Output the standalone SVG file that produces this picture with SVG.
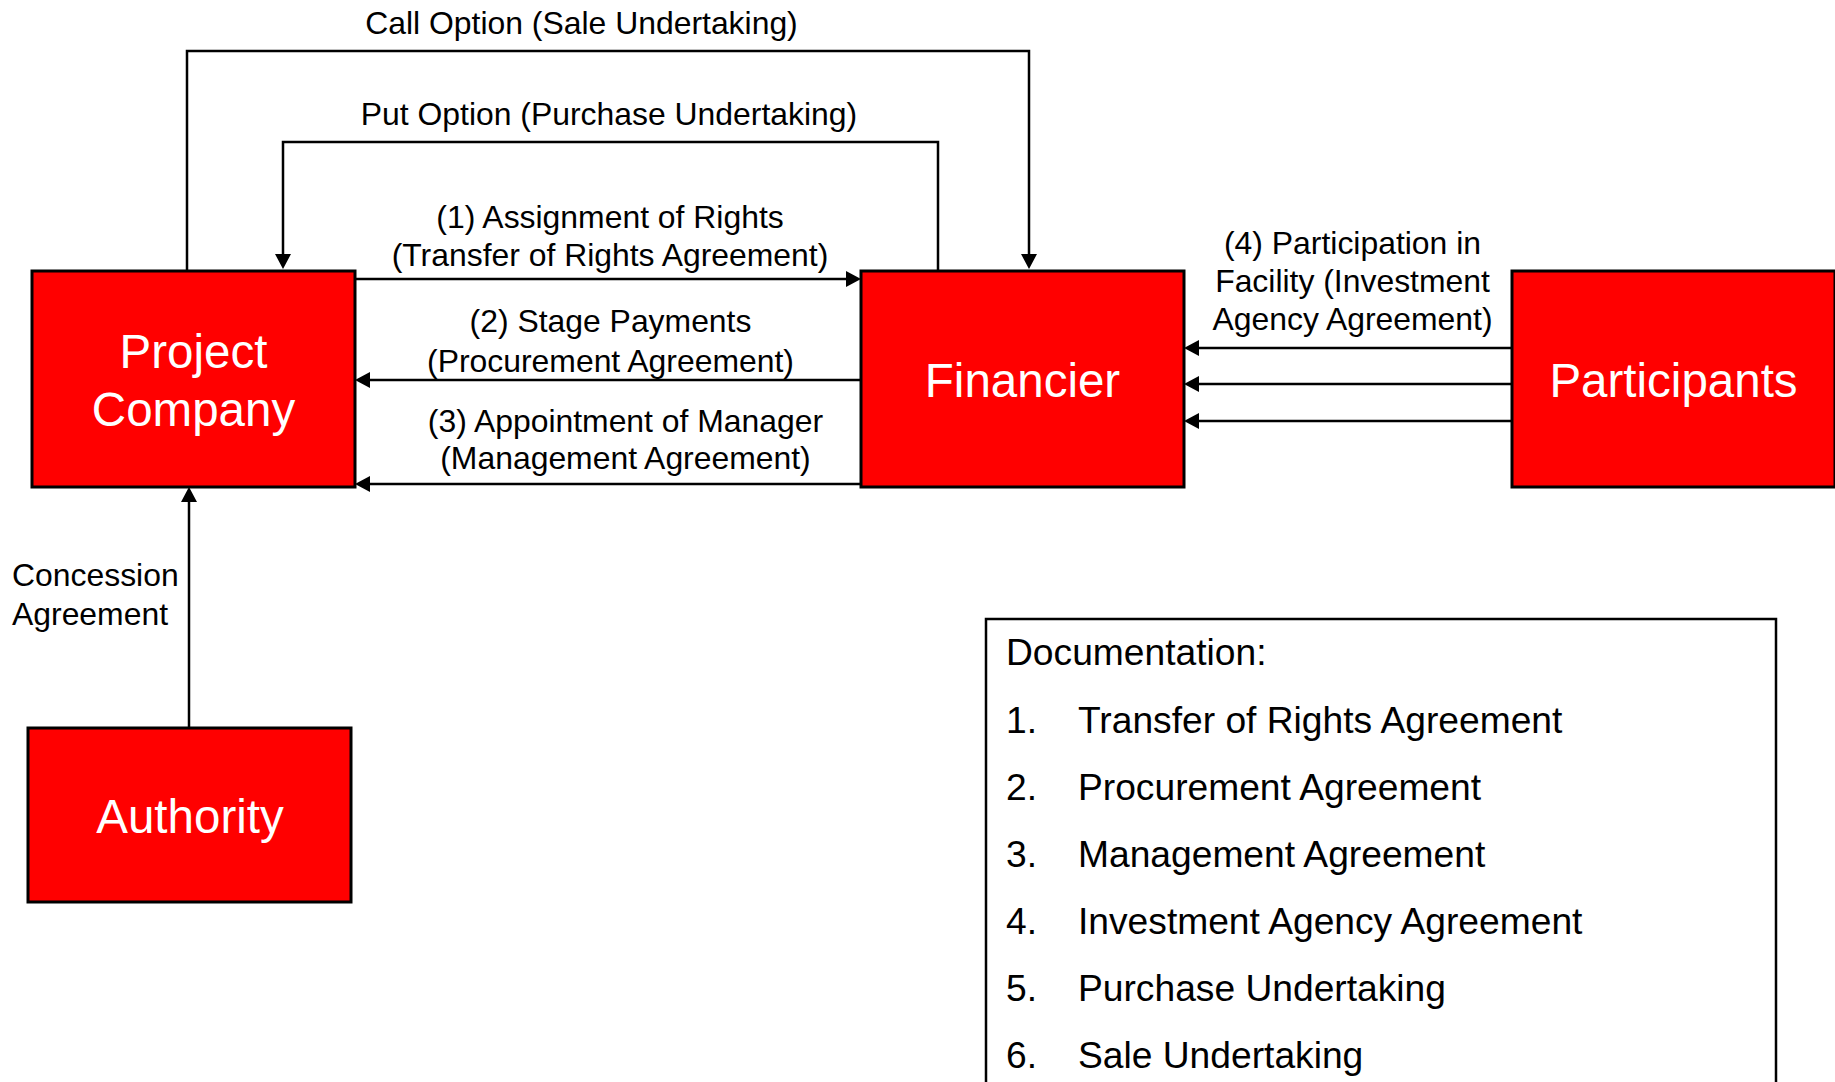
<svg xmlns="http://www.w3.org/2000/svg" width="1835" height="1082" viewBox="0 0 1835 1082">
  <style>
    .node rect { fill: #ff0000; stroke: #000; stroke-width: 3; }
    .node text { font-family: "Liberation Sans", Arial, sans-serif; font-size: 47.5px; fill: #fff; text-anchor: middle; }
    .conn path { fill: none; stroke: #000; stroke-width: 2.5; }
    .lbl { font-family: "Liberation Sans", Arial, sans-serif; font-size: 31.9px; fill: #000; }
    .mid { text-anchor: middle; }
    .doc { font-family: "Liberation Sans", Arial, sans-serif; font-size: 37.2px; fill: #000; }
  </style>
  <defs>
    <marker id="arrow" markerUnits="userSpaceOnUse" markerWidth="16" markerHeight="16" refX="11" refY="8" orient="auto">
      <path d="M0,0 L15,8 L0,16 Z" fill="#000"/>
    </marker>
  </defs>

  <rect width="1835" height="1082" fill="#fff"/>

  <!-- connectors -->
  <g id="connectors" class="conn">
    <path id="call-option" d="M187,271 V51 H1029 V265" marker-end="url(#arrow)"/>
    <path id="put-option" d="M938,271 V142 H283 V265" marker-end="url(#arrow)"/>
    <path id="assignment" d="M355,279 H857" marker-end="url(#arrow)"/>
    <path id="stage-payments" d="M861,380 H359" marker-end="url(#arrow)"/>
    <path id="appointment" d="M861,484 H359" marker-end="url(#arrow)"/>
    <path id="participation-1" d="M1512,348 H1188" marker-end="url(#arrow)"/>
    <path id="participation-2" d="M1512,384 H1188" marker-end="url(#arrow)"/>
    <path id="participation-3" d="M1512,421 H1188" marker-end="url(#arrow)"/>
    <path id="concession" d="M189,728 V491" marker-end="url(#arrow)"/>
  </g>

  <!-- connector labels -->
  <g id="connector-labels" class="lbl">
    <text class="mid" x="581.5" y="34">Call Option (Sale Undertaking)</text>
    <text class="mid" x="609" y="125">Put Option (Purchase Undertaking)</text>
    <text class="mid" x="610" y="228">(1) Assignment of Rights</text>
    <text class="mid" x="610" y="266">(Transfer of Rights Agreement)</text>
    <text class="mid" x="610.5" y="332">(2) Stage Payments</text>
    <text class="mid" x="610.5" y="372">(Procurement Agreement)</text>
    <text class="mid" x="625.5" y="432">(3) Appointment of Manager</text>
    <text class="mid" x="625.5" y="469">(Management Agreement)</text>
    <text class="mid" x="1352.5" y="254">(4) Participation in</text>
    <text class="mid" x="1352.5" y="292">Facility (Investment</text>
    <text class="mid" x="1352.5" y="330">Agency Agreement)</text>
    <text x="12" y="586">Concession</text>
    <text x="12" y="625">Agreement</text>
  </g>

  <!-- nodes -->
  <g id="project-company" class="node">
    <rect x="32" y="271" width="323" height="216"/>
    <text x="193.5" y="368">Project</text>
    <text x="193.5" y="426">Company</text>
  </g>
  <g id="financier" class="node">
    <rect x="861" y="271" width="323" height="216"/>
    <text x="1022.5" y="397">Financier</text>
  </g>
  <g id="participants" class="node">
    <rect x="1512" y="271" width="323" height="216"/>
    <text x="1673.5" y="397">Participants</text>
  </g>
  <g id="authority" class="node">
    <rect x="28" y="728" width="323" height="174"/>
    <text x="190" y="833">Authority</text>
  </g>

  <!-- documentation list -->
  <g id="documentation" class="doc">
    <rect x="986" y="619" width="790" height="520" fill="#fff" stroke="#000" stroke-width="2.5"/>
    <text x="1006" y="665">Documentation:</text>
    <text x="1006" y="733">1.</text><text x="1078" y="733">Transfer of Rights Agreement</text>
    <text x="1006" y="800">2.</text><text x="1078" y="800">Procurement Agreement</text>
    <text x="1006" y="867">3.</text><text x="1078" y="867">Management Agreement</text>
    <text x="1006" y="934">4.</text><text x="1078" y="934">Investment Agency Agreement</text>
    <text x="1006" y="1001">5.</text><text x="1078" y="1001">Purchase Undertaking</text>
    <text x="1006" y="1068">6.</text><text x="1078" y="1068">Sale Undertaking</text>
  </g>
</svg>
